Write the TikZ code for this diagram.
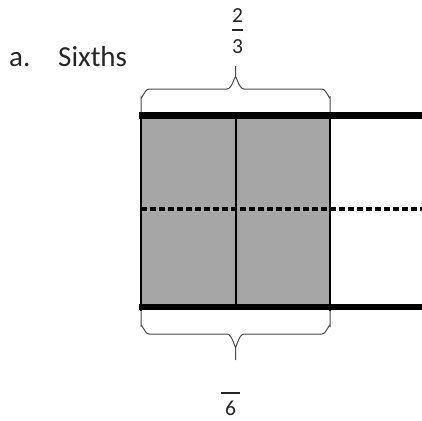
\documentclass[tikz,border=0pt]{standalone}
\usepackage{fontspec}
\setmainfont{Carlito}
\definecolor{barfill}{HTML}{A6A6A6}
\definecolor{bracecol}{HTML}{4A4A4A}
\begin{document}
\begin{tikzpicture}[x=1pt,y=-1pt,
  lbl/.style={inner sep=0pt,anchor=base west,font=\fontsize{29}{31}\selectfont,text=black!85},
  digit/.style={inner sep=0pt,anchor=base,font=\fontsize{21.5}{23}\selectfont,text=black!85},
  thick line/.style={line width=6.5pt,black},
  divider/.style={line width=1.8pt,black},
  dashline/.style={line width=3.5pt,black,dash pattern=on 6pt off 3pt},
  bracepath/.style={line width=1pt,bracecol},
  fracbar/.style={line width=2pt,black!85}]
\useasboundingbox (0,0) rectangle (422,420);
\fill[white] (0,0) rectangle (422,420);
% shaded region
\fill[barfill] (141,116) rectangle (330,307);
% verticals
\coordinate (lt) at (141,112);
\coordinate (lb) at (141,311);
\coordinate (mt) at (236,116);
\coordinate (mb) at (236,307);
\coordinate (rt) at (330,112);
\coordinate (rb) at (330,311);
\draw[divider] (lt) -- (lb);
\draw[divider] (mt) -- (mb);
\draw[divider] (rt) -- (rb);
% horizontal lines
\coordinate (tl) at (139,115.5);
\coordinate (tr) at (422,115.5);
\coordinate (bl) at (139,307);
\coordinate (br) at (422,307);
\coordinate (dl) at (141,209);
\coordinate (dr) at (422,209);
\draw[thick line] (tl) -- (tr);
\draw[thick line] (bl) -- (br);
\draw[dashline] (dl) -- (dr);
% top brace
\draw[bracepath] (141,112) -- (141,97) to[out=-90,in=180] (149,89) -- (227,89)
  to[out=0,in=90] (235.5,78) -- (235.5,66);
\draw[bracepath] (330,112) -- (330,97) to[out=-90,in=0] (322,89) -- (244,89)
  to[out=180,in=90] (235.5,78);
% bottom brace
\draw[bracepath] (141,311) -- (141,326) to[out=90,in=180] (149,334) -- (227,334)
  to[out=0,in=-90] (235.5,346) -- (235.5,360);
\draw[bracepath] (330,311) -- (330,326) to[out=90,in=0] (322,334) -- (244,334)
  to[out=180,in=-90] (235.5,346);
% labels
\node[lbl] (a) at (9,66) {a.};
\node[lbl] (sixths) at (58,66) {Sixths};
\node[digit] (num) at (237.5,22.5) {2};
\node[digit] (den) at (237.5,53.5) {3};
\draw[fracbar] (232,30) -- (243,30);
\draw[fracbar] (221,393) -- (240,393);
\node[digit] (six) at (230.5,415.5) {6};
\end{tikzpicture}
\end{document}
